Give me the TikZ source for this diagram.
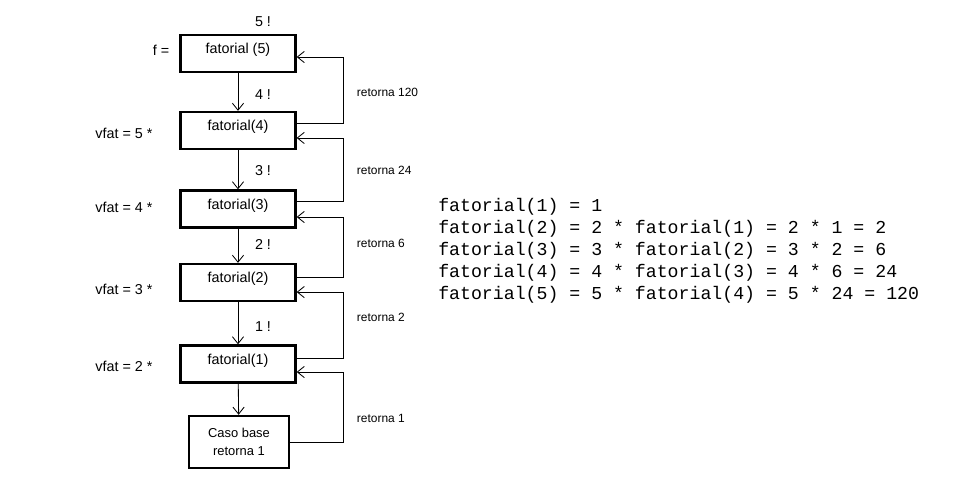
\documentclass[tikz,border=0pt]{standalone}
\usepackage{fontspec}
\setmainfont{Liberation Sans}
\setmonofont{Liberation Mono}
\usetikzlibrary{arrows.meta}

\tikzset{
  caixa/.style={draw, rectangle, line width=1.6pt, minimum width=2.875cm, minimum height=0.925cm,
    text height=5pt, text depth=4.6pt, font=\fontsize{10.2}{12}\selectfont},
  rotulo/.style={font=\fontsize{10.2}{12}\selectfont},
  retorno/.style={font=\fontsize{8.5}{10}\selectfont, anchor=west},
  seta/.style={line width=0.6pt, -{Straight Barb[length=5pt,width=8pt]}}
}

\begin{document}
\begin{tikzpicture}[x=0.025cm, y=-0.025cm]
\useasboundingbox (0,0) rectangle (975,490);

% Caixas das chamadas
\node (b5) [caixa] at (238,53.5) {fatorial (5)};
\node (b4) [caixa] at (238,130.5) {fatorial(4)};
\node (b3) [caixa] at (238,209) {fatorial(3)};
\node (b2) [caixa] at (238,282.5) {fatorial(2)};
\node (b1) [caixa] at (238,364) {fatorial(1)};

% Caso base
\node (base) [draw, rectangle, line width=1.7pt, minimum width=2.5cm, minimum height=1.3cm,
  align=center, font=\fontsize{9.2}{12.3}\selectfont] at (239,442) {Caso base\\retorna 1};

% Rotulos da esquerda
\node (f) [rotulo] at (161,50) {f =};
\node (v5) [rotulo] at (124,133) {vfat = 5 *};
\node (v4) [rotulo] at (124,207) {vfat = 4 *};
\node (v3) [rotulo] at (124,289) {vfat = 3 *};
\node (v2) [rotulo] at (124,366) {vfat = 2 *};

% Fatoriais
\node (n5) [rotulo] at (263,22) {5 !};
\node (n4) [rotulo] at (263,95) {4 !};
\node (n3) [rotulo] at (263,171) {3 !};
\node (n2) [rotulo] at (263,244) {2 !};
\node (n1) [rotulo] at (263,327) {1 !};

% Setas das chamadas
\path[draw,seta] (b5) -- (b4);
\path[draw,seta] (b4) -- (b3);
\path[draw,seta] (b3) -- (b2);
\path[draw,seta] (b2) -- (b1);
\path[draw,seta] (b1) -- (base);

% Setas de retorno
\path[draw,seta] ([yshift=5.3pt]b4.east) -- ++(1.175cm,0) |- ([yshift=-2.5pt]b5.east);
\path[draw,seta] ([yshift=5.7pt]b3.east) -- ++(1.175cm,0) |- ([yshift=-5.3pt]b4.east);
\path[draw,seta] ([yshift=3.9pt]b2.east) -- ++(1.175cm,0) |- ([yshift=-5.7pt]b3.east);
\path[draw,seta] ([yshift=4.3pt]b1.east) -- ++(1.175cm,0) |- ([yshift=-6.8pt]b2.east);
\path[draw,seta] (base.east) -- ++(1.325cm,0) |- ([yshift=-5.7pt]b1.east);

% Rotulos de retorno
\node (r5) [retorno] at (352,92) {retorna 120};
\node (r4) [retorno] at (352,170) {retorna 24};
\node (r3) [retorno] at (352,243) {retorna 6};
\node (r2) [retorno] at (352,317) {retorna 2};
\node (r1) [retorno] at (352,418) {retorna 1};

% Calculo
\node (calc) [anchor=north west, inner sep=0pt, align=left,
  font=\ttfamily\fontsize{12.95}{15.6}\selectfont] at (438,198)
{fatorial(1) = 1\\
fatorial(2) = 2 * fatorial(1) = 2 * 1 = 2\\
fatorial(3) = 3 * fatorial(2) = 3 * 2 = 6\\
fatorial(4) = 4 * fatorial(3) = 4 * 6 = 24\\
fatorial(5) = 5 * fatorial(4) = 5 * 24 = 120};

\end{tikzpicture}
\end{document}
